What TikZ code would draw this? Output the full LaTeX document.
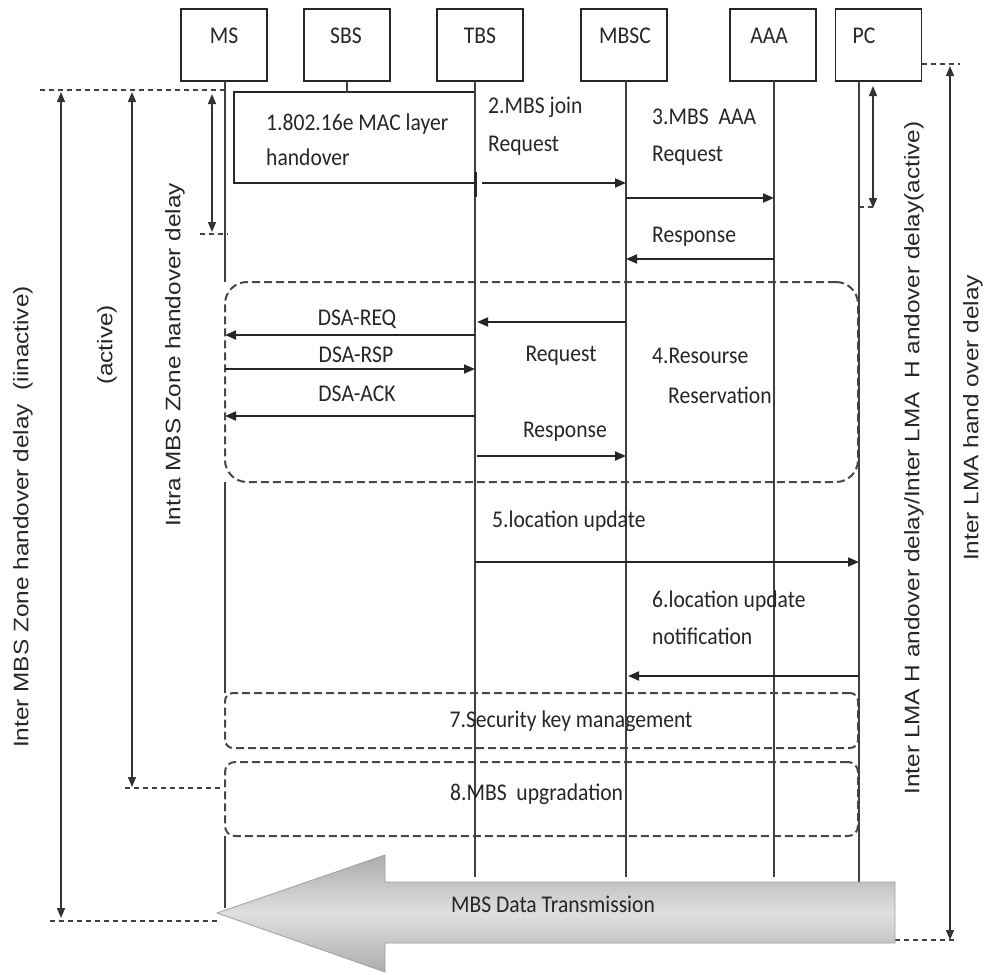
\documentclass[tikz,border=0pt]{standalone}
\usepackage{fontspec}
\setmainfont{Carlito}
\newfontfamily\hfont[FakeStretch=0.9]{Carlito}
\newfontfamily\rfont[FakeStretch=1.16]{Liberation Sans}
\usetikzlibrary{arrows.meta}
\begin{document}
\begin{tikzpicture}[x=1pt,y=-1pt,
  actor/.style={draw=black!85, line width=1.6pt, minimum width=86pt, minimum height=72pt, inner sep=0pt, outer sep=0pt},
  lbl/.style={font=\hfont\fontsize{24}{28}\selectfont, text=black!85, inner sep=0pt},
  vlab/.style={font=\rfont\fontsize{21}{24}\selectfont, text=black!85, inner sep=0pt, rotate=90},
  life/.style={draw=black!75, line width=1.5pt},
  msg/.style={draw=black!85, line width=1.8pt, -{Triangle[length=11pt,width=9pt]}},
  dim/.style={draw=black!80, line width=1.3pt, {Triangle[length=10pt,width=8pt]}-{Triangle[length=10pt,width=8pt]}},
  guide/.style={draw=black!75, line width=1.4pt, dash pattern=on 5pt off 4pt},
  dbox/.style={draw=black!72, line width=2pt, dash pattern=on 8pt off 4pt, inner sep=0pt, outer sep=0pt, minimum width=633pt, anchor=north west}
]
\useasboundingbox (0,0) rectangle (987,974);

% actor boxes
\node[actor] (ms)   at (224,45)   {};
\node[actor] (sbs)  at (347,45)   {};
\node[actor] (tbs)  at (480,45)   {};
\node[actor] (mbsc) at (624,45)   {};
\node[actor] (aaa)  at (773,45)   {};
\node[actor] (pc)   at (878.5,45) {};
\node[lbl] (mst)   at (224,36) {MS};
\node[lbl] (sbst)  at (346,36) {SBS};
\node[lbl] (tbst)  at (480,36) {TBS};
\node[lbl] (mbsct) at (625,36) {MBSC};
\node[lbl] (aaat)  at (769,36) {AAA};
\node[lbl] (pct)   at (864,36) {PC};

% lifeline ends
\coordinate (msBot)   at (225,908);
\coordinate (tbsBot)  at (475,877);
\coordinate (mbscBot) at (626,877);
\coordinate (aaaBot)  at (774,877);
\coordinate (pcBot)   at (859,882);

% dashed grouping boxes
\node[dbox, rounded corners=22pt, minimum height=200pt] (box4) at (225,282) {};
\node[dbox, rounded corners=8pt, minimum height=55pt] (box7) at (225,693) {};
\node[dbox, rounded corners=10pt, minimum height=74pt] (box8) at (225,762) {};

% MAC box
\node[draw=black!85, line width=1.6pt, minimum width=241pt, minimum height=91pt, inner sep=0pt, outer sep=0pt, anchor=north west] (mac) at (234,92) {};

% lifelines
\draw[life] (ms.south -| msBot) -- (box4.north west);
\draw[life] (box4.south west) -- (box7.north west);
\draw[life] (box8.south west) -- (msBot);
\draw[life] (sbs.south) -- (sbs.south |- mac.north);
\draw[life] (tbs.south -| tbsBot) -- (tbsBot);
\draw[life] (mbsc.south -| mbscBot) -- (mbscBot);
\draw[life] (aaa.south -| aaaBot) -- (aaaBot);
\draw[life] (pc.south -| pcBot) -- (pcBot);
\coordinate (tk1) at (0,172);
\coordinate (tk2) at (0,197);
\draw[draw=black!85, line width=3pt] (tbsBot |- tk1) -- (tbsBot |- tk2);

% message y levels
\coordinate (y2) at (0,183);
\coordinate (y3) at (0,198);
\coordinate (yr) at (0,259);
\coordinate (y4a) at (0,322);
\coordinate (yq) at (0,335);
\coordinate (ys) at (0,369);
\coordinate (yk) at (0,416);
\coordinate (y4b) at (0,456);
\coordinate (y5) at (0,562);
\coordinate (y6) at (0,676);

\draw[msg] ([xshift=7pt]tbsBot |- y2) -- (mbscBot |- y2);
\draw[msg] (mbscBot |- y3) -- (aaaBot |- y3);
\draw[msg] (aaaBot |- yr) -- (mbscBot |- yr);
\draw[msg] (mbscBot |- y4a) -- ([xshift=2pt]tbsBot |- y4a);
\draw[msg] (tbsBot |- yq) -- (msBot |- yq);
\draw[msg] (msBot |- ys) -- (tbsBot |- ys);
\draw[msg] (tbsBot |- yk) -- (msBot |- yk);
\draw[msg] ([xshift=2pt]tbsBot |- y4b) -- (mbscBot |- y4b);
\draw[msg] (tbsBot |- y5) -- (pcBot |- y5);
\draw[msg] (pcBot |- y6) -- ([xshift=2pt]mbscBot |- y6);

% message labels
\node[lbl, anchor=west, align=left, font=\hfont\fontsize{24}{35}\selectfont] (t1) at (266,140) {1.802.16e MAC layer\\handover};
\node[lbl, anchor=west, align=left, font=\hfont\fontsize{24}{38}\selectfont] (t2) at (488,126) {2.MBS join\\Request};
\node[lbl, anchor=west, align=left, font=\hfont\fontsize{24}{37}\selectfont] (t3) at (652,137) {3.MBS\ \ AAA\\Request};
\node[lbl, anchor=west] (t3r) at (652,237) {Response};
\node[lbl] (tq) at (357,319) {DSA-REQ};
\node[lbl] (ts) at (356,355) {DSA-RSP};
\node[lbl] (tk) at (357,394) {DSA-ACK};
\node[lbl] (t4q) at (561,356) {Request};
\node[lbl, anchor=west] (t4a) at (652,356) {4.Resourse};
\node[lbl, anchor=west] (t4b) at (668,395) {Reservation};
\node[lbl] (t4r) at (565,432) {Response};
\node[lbl, anchor=west] (t5) at (492,521) {5.location update};
\node[lbl, anchor=west, align=left, font=\hfont\fontsize{24}{37}\selectfont] (t6) at (652,618) {6.location update\\notification};
\node[lbl] (t7) at (571,721) {7.Security key management};
\node[lbl, anchor=west] (t8) at (450,794) {8.MBS\ \ upgradation};

% delay dimension lines
\coordinate (g1) at (40,90);
\coordinate (g2a) at (200,234); \coordinate (g2b) at (228,234);
\coordinate (g3a) at (125,788); \coordinate (g3b) at (222,788);
\coordinate (g4a) at (50,921);  \coordinate (g4b) at (217,921);
\coordinate (g5) at (960,64);
\coordinate (g6) at (876,207);
\coordinate (g7a) at (895,940); \coordinate (g7b) at (955,940);
\draw[guide] (g1) -- (g1 -| msBot);
\draw[guide] (g2a) -- (g2b);
\draw[guide] (g3a) -- (g3b);
\draw[guide] (g4a) -- (g4b);
\draw[guide] (pc.east |- g5) -- (g5);
\draw[guide] (pcBot |- g6) -- (g6);
\draw[guide] (g7a) -- (g7b);

\coordinate (d1t) at (61,92);  \coordinate (d1b) at (61,918);
\coordinate (d2t) at (132,92); \coordinate (d2b) at (132,787);
\coordinate (d3t) at (212,94); \coordinate (d3b) at (212,232);
\coordinate (d4t) at (873,86); \coordinate (d4b) at (873,208);
\coordinate (d5t) at (950,66); \coordinate (d5b) at (950,940);
\draw[dim] (d1t) -- (d1b);
\draw[dim] (d2t) -- (d2b);
\draw[dim] (d3t) -- (d3b);
\draw[dim] (d4t) -- (d4b);
\draw[dim] (d5t) -- (d5b);

% rotated labels
\node[vlab] (v1) at (23,517) {Inter MBS Zone handover delay\ \ (iinactive)};
\node[vlab] (v2) at (107,345) {(active)};
\node[vlab] (v3) at (175,355) {Intra MBS Zone handover delay};
\node[vlab] (v4) at (914,458) {Inter LMA H andover delay/Inter LMA\ \ H andover delay(active)};
\node[vlab] (v5) at (973,418) {Inter LMA hand over delay};

% big data arrow
\shade[top color=gray!65, bottom color=gray!65, middle color=gray!25, draw=gray!75, line width=0.8pt]
  (217,913) -- (385,855) -- (385,882) -- (895,882) -- (895,943) -- (385,943) -- (385,972) -- cycle;
\node[lbl] (tdata) at (553,904) {MBS Data Transmission};
\end{tikzpicture}
\end{document}
